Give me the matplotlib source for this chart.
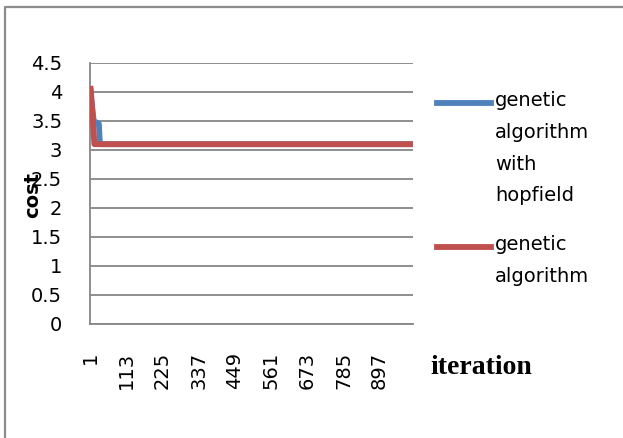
import numpy as np
import matplotlib.pyplot as plt

# series as (iteration, cost) break points
hop_iter = [1, 6, 12, 28, 31, 1000]
hop_cost = [4.0, 3.8, 3.5, 3.45, 3.1, 3.1]
ga_iter = [1, 3, 8, 14, 1000]
ga_cost = [4.1, 4.05, 3.6, 3.1, 3.1]

names = ["genetic\nalgorithm\nwith\nhopfield", "genetic\nalgorithm"]
colors = ["#4f81bd", "#c0504d"]
xticks = [1, 113, 225, 337, 449, 561, 673, 785, 897]
yticks = [0, 0.5, 1, 1.5, 2, 2.5, 3, 3.5, 4, 4.5]

plt.rcParams['font.family'] = ['DejaVu Sans']

fig = plt.figure(figsize=(6.23, 4.38), dpi=100)
ax = fig.add_axes([0.1445, 0.2603, 0.5185, 0.5959])

# outer chart frame: only the left and top edges are inside the picture
fx, fy = 5 / 623, 1 - 7 / 438
fig.add_artist(plt.Line2D([fx, fx, 1.05], [-0.05, fy, fy], color="#8c8c8c", linewidth=1.6,
                          transform=fig.transFigure))

ax.plot(hop_iter, hop_cost, color=colors[0], linewidth=4.2, solid_capstyle='butt', zorder=3)
ax.plot(ga_iter, ga_cost, color=colors[1], linewidth=4.2, solid_capstyle='butt', zorder=4)

ax.set_xlim(0.5, 1000.5)
ax.set_ylim(0, 4.5)
ax.set_yticks(yticks)
ax.set_yticklabels(["0", "0.5", "1", "1.5", "2", "2.5", "3", "3.5", "4", "4.5"])
ax.set_xticks(xticks)
ax.set_xticklabels([str(t) for t in xticks], rotation=90)
ax.tick_params(axis='both', length=0, labelsize=14)
ax.tick_params(axis='y', pad=20)
ax.tick_params(axis='x', pad=20)
ax.grid(axis='y', color="#868686", linewidth=1.3)
ax.set_axisbelow(True)
for s in ['top', 'right']:
    ax.spines[s].set_visible(False)
for s in ['left', 'bottom']:
    ax.spines[s].set_color("#868686")
    ax.spines[s].set_linewidth(1.3)

fig.text(33 / 623, 1 - 195 / 438, "cost", rotation=90, fontsize=14, fontweight='bold',
         ha='center', va='center')
fig.text(481 / 623, 1 - 368 / 438, "iteration", fontsize=20, fontweight='bold',
         family='Liberation Serif', ha='center', va='center')

# legend drawn by hand so the key sits on the first text line
leg_y = [103, 247]
for name, c, y in zip(names, colors, leg_y):
    yf = 1 - y / 438
    fig.add_artist(plt.Line2D([437 / 623, 491 / 623], [yf, yf], color=c, linewidth=4.2,
                              transform=fig.transFigure))
    fig.text(495 / 623, 1 - (y - 12) / 438, name, fontsize=14, ha='left', va='top',
             linespacing=1.85)

fig.savefig("out.png", dpi=100)
